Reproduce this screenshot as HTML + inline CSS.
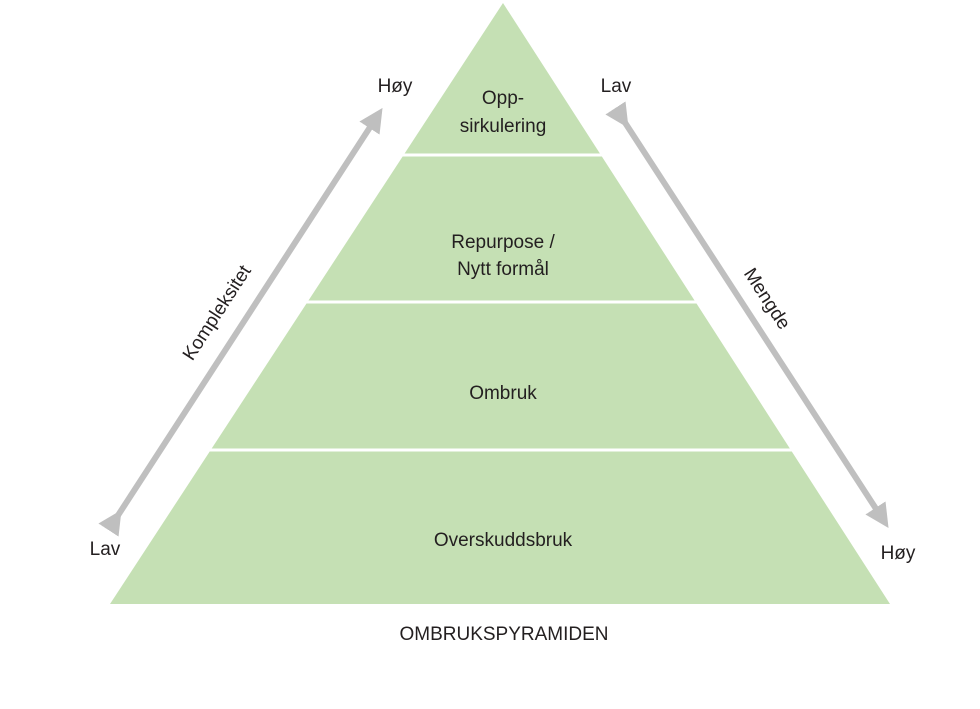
<!DOCTYPE html>
<html><head><meta charset="utf-8"><style>
html,body{margin:0;padding:0;background:#fff;}
svg{display:block;}
text{font-family:"Liberation Sans",sans-serif;fill:#231f20;}
</style></head><body>
<svg width="980" height="709" viewBox="0 0 980 709" xmlns="http://www.w3.org/2000/svg">
<defs>
<marker id="ah" markerWidth="4" markerHeight="4" refX="2" refY="2" orient="auto" markerUnits="strokeWidth">
<path d="M0,0 L4,2 L0,4 z" fill="#bfbfbf"/>
</marker>
</defs>
<polygon points="503,3 110,604 890,604" fill="#c5e0b4"/>
<line x1="400" y1="155" x2="606" y2="155" stroke="#fff" stroke-width="3"/>
<line x1="304" y1="302" x2="702" y2="302" stroke="#fff" stroke-width="3"/>
<line x1="207" y1="450" x2="799" y2="450" stroke="#fff" stroke-width="3"/>
<line x1="115" y1="520" x2="376" y2="118" stroke="#bfbfbf" stroke-width="6" marker-start="url(#ah)" marker-end="url(#ah)"/>
<line x1="622" y1="118" x2="882" y2="518" stroke="#bfbfbf" stroke-width="6" marker-start="url(#ah)" marker-end="url(#ah)"/>
<g font-size="19" text-anchor="middle">
<text x="503" y="104">Opp-</text>
<text x="503" y="132">sirkulering</text>
<text x="503" y="248">Repurpose /</text>
<text x="503" y="275">Nytt formål</text>
<text x="503" y="399">Ombruk</text>
<text x="503" y="546">Overskuddsbruk</text>
<text x="395" y="92">Høy</text>
<text x="616" y="92">Lav</text>
<text x="105" y="555">Lav</text>
<text x="898" y="559">Høy</text>
<text transform="translate(222,316) rotate(-57)">Kompleksitet</text>
<text transform="translate(762,302) rotate(57)">Mengde</text>
</g>
<text x="504" y="640" font-size="19" text-anchor="middle">OMBRUKSPYRAMIDEN</text>
</svg>
</body></html>
